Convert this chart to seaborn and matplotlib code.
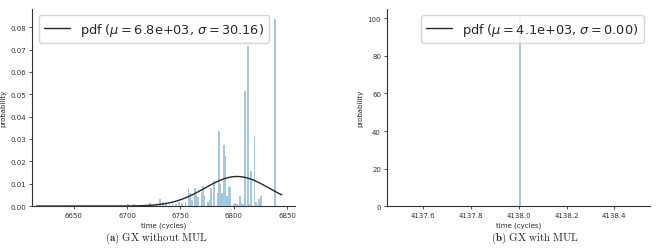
import numpy as np
import pandas as pd
import matplotlib
matplotlib.use('Agg')
import matplotlib.pyplot as plt
import seaborn as sns

# (a) GX without MUL: histogram bins (cycle position, probability density)
cycles_a = [6627, 6650, 6677, 6680, 6700, 6706, 6712, 6719, 6722, 6725,
            6728, 6731, 6733, 6736, 6739, 6742, 6745, 6748, 6751, 6754,
            6757, 6759, 6761, 6763.5, 6765, 6767, 6769, 6771, 6773, 6775,
            6777, 6779, 6781.5, 6784, 6785.5, 6787, 6789, 6790.5, 6792, 6794,
            6795.5, 6797, 6799, 6801, 6803, 6805.5, 6807, 6809, 6810.5, 6812.5,
            6814.5, 6816.5, 6818.5, 6820, 6822, 6824, 6825.5, 6839]
prob_a = [0.0005, 0.0003, 0.0004, 0.0003, 0.0010, 0.0008, 0.0007, 0.0005, 0.0012, 0.0010,
          0.0015, 0.0030, 0.0018, 0.0012, 0.0008, 0.0015, 0.0010, 0.0020, 0.0012, 0.0020,
          0.0079, 0.0060, 0.0025, 0.0083, 0.0050, 0.0040, 0.0060, 0.0090, 0.0045, 0.0020,
          0.0025, 0.0080, 0.0110, 0.0060, 0.0336, 0.0100, 0.0060, 0.0273, 0.0225, 0.0045,
          0.0087, 0.0090, 0.0010, 0.0012, 0.0010, 0.0045, 0.0012, 0.0010, 0.0515, 0.0716,
          0.0010, 0.0157, 0.0313, 0.0020, 0.0005, 0.0030, 0.0045, 0.0836]
mu_a, sigma_a = 6803.0, 30.16

# (b) GX with MUL: every run takes the same number of cycles
cycles_b = [4138.005]
prob_b = [100.0]
mu_b, sigma_b = 4138.0, 0.0

sns.set_style('ticks')
plt.rcParams['font.family'] = ['DejaVu Sans']

df_a = pd.DataFrame({'cycles': cycles_a, 'prob': prob_a})
df_b = pd.DataFrame({'cycles': cycles_b, 'prob': prob_b})

fig = plt.figure(figsize=(6.7, 2.51), dpi=100)
ax1 = fig.add_axes([0.048, 0.175, 0.3925, 0.785])
ax2 = fig.add_axes([0.578, 0.175, 0.3925, 0.785])

bar_color = '#1f77b4'
line_color = '#282828'

sns.histplot(data=df_a, x='cycles', weights='prob', binwidth=1.5, binrange=(6621.9, 6847),
             color=bar_color, alpha=0.4, linewidth=0, ax=ax1)
xs = np.linspace(6615, 6845, 200)
pdf = np.exp(-0.5 * ((xs - mu_a) / sigma_a) ** 2) / (sigma_a * np.sqrt(2 * np.pi))
ax1.plot(xs, pdf, color=line_color, lw=1,
         label=r'pdf ($\mu=$%.1e, $\sigma=$%.2f)' % (mu_a, sigma_a))
ax1.set_xlim(6611, 6857.5)
ax1.set_ylim(0, 0.0881)
ax1.set_yticks(np.arange(0, 0.081, 0.01))
ax1.set_xticks([6650, 6700, 6750, 6800, 6850])
ax1.legend(loc='upper left', fontsize=9.3, handlelength=2)

sns.histplot(data=df_b, x='cycles', weights='prob', binwidth=0.01, binrange=(4137.5, 4138.5),
             color=bar_color, alpha=0.4, linewidth=0, ax=ax2)
ax2.plot([], [], color=line_color, lw=1,
         label=r'pdf ($\mu=$%.1e, $\sigma=$%.2f)' % (4.1e3, sigma_b))
ax2.set_xlim(4137.45, 4138.55)
ax2.set_ylim(0, 105)
ax2.set_yticks([0, 20, 40, 60, 80, 100])
ax2.set_xticks([4137.6, 4137.8, 4138.0, 4138.2, 4138.4])
ax2.set_xticklabels(['4137.6', '4137.8', '4138.0', '4138.2', '4138.4'])
ax2.legend(loc='upper right', fontsize=9.3, handlelength=2)

for ax in (ax1, ax2):
    sns.despine(ax=ax)
    ax.set_xlabel('time (cycles)', fontsize=5, labelpad=2)
    ax.set_ylabel('probability', fontsize=5, labelpad=3)
    ax.tick_params(labelsize=5, length=2.5, width=0.6, pad=2, colors='#333333')
    for s in ('left', 'bottom'):
        ax.spines[s].set_linewidth(0.8)
        ax.spines[s].set_color('#333333')

fig.text(0.234, 0.04, r'$\mathbf{(a)}\ \mathrm{GX\ without\ MUL}$', ha='center',
         fontsize=7.8, math_fontfamily='cm')
fig.text(0.798, 0.04, r'$\mathbf{(b)}\ \mathrm{GX\ with\ MUL}$', ha='center',
         fontsize=7.8, math_fontfamily='cm')

fig.savefig('out.png', dpi=100)
